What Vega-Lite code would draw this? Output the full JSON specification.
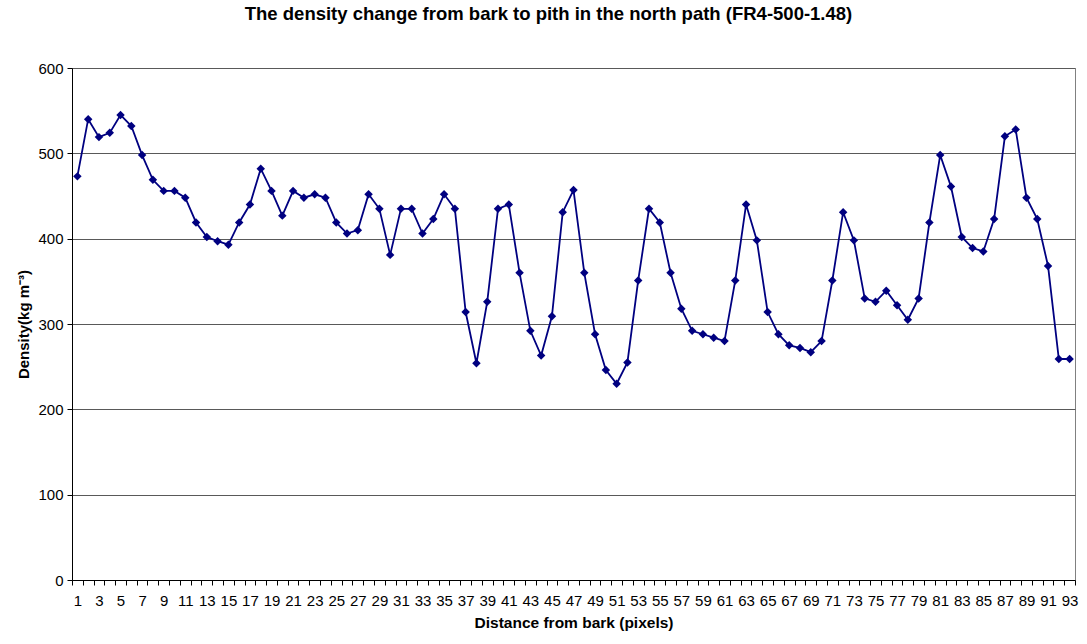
{
  "$schema": "https://vega.github.io/schema/vega-lite/v6.json",
  "autosize": "none",
  "padding": {"left": 72, "top": 68, "right": 12, "bottom": 64},
  "width": 1003,
  "height": 512,
  "background": "white",
  "config": {
    "font": "Liberation Sans",
    "view": {"stroke": "#808080", "strokeWidth": 1}
  },
  "title": {
    "text": "The density change from bark to pith in the north path (FR4-500-1.48)",
    "font": "Liberation Sans",
    "fontSize": 18.5,
    "fontWeight": "bold",
    "color": "#000000",
    "anchor": "middle",
    "frame": "group",
    "dx": -25,
    "baseline": "alphabetic",
    "offset": 23
  },
  "data": {
    "values": [
      {"x": 1, "density": 473}, {"x": 2, "density": 540}, {"x": 3, "density": 519}, {"x": 4, "density": 524},
      {"x": 5, "density": 545}, {"x": 6, "density": 532}, {"x": 7, "density": 498}, {"x": 8, "density": 469},
      {"x": 9, "density": 456}, {"x": 10, "density": 456}, {"x": 11, "density": 448}, {"x": 12, "density": 419},
      {"x": 13, "density": 402}, {"x": 14, "density": 397}, {"x": 15, "density": 393}, {"x": 16, "density": 419},
      {"x": 17, "density": 440}, {"x": 18, "density": 482}, {"x": 19, "density": 456}, {"x": 20, "density": 427},
      {"x": 21, "density": 456}, {"x": 22, "density": 448}, {"x": 23, "density": 452}, {"x": 24, "density": 448},
      {"x": 25, "density": 419}, {"x": 26, "density": 406}, {"x": 27, "density": 410}, {"x": 28, "density": 452},
      {"x": 29, "density": 435}, {"x": 30, "density": 381}, {"x": 31, "density": 435}, {"x": 32, "density": 435},
      {"x": 33, "density": 406}, {"x": 34, "density": 423}, {"x": 35, "density": 452}, {"x": 36, "density": 435},
      {"x": 37, "density": 314}, {"x": 38, "density": 254}, {"x": 39, "density": 326}, {"x": 40, "density": 435},
      {"x": 41, "density": 440}, {"x": 42, "density": 360}, {"x": 43, "density": 292}, {"x": 44, "density": 263},
      {"x": 45, "density": 309}, {"x": 46, "density": 431}, {"x": 47, "density": 457}, {"x": 48, "density": 360},
      {"x": 49, "density": 288}, {"x": 50, "density": 246}, {"x": 51, "density": 230}, {"x": 52, "density": 255},
      {"x": 53, "density": 351}, {"x": 54, "density": 435}, {"x": 55, "density": 419}, {"x": 56, "density": 360},
      {"x": 57, "density": 318}, {"x": 58, "density": 292}, {"x": 59, "density": 288}, {"x": 60, "density": 284},
      {"x": 61, "density": 280}, {"x": 62, "density": 351}, {"x": 63, "density": 440}, {"x": 64, "density": 398},
      {"x": 65, "density": 314}, {"x": 66, "density": 288}, {"x": 67, "density": 275}, {"x": 68, "density": 272},
      {"x": 69, "density": 267}, {"x": 70, "density": 280}, {"x": 71, "density": 351}, {"x": 72, "density": 431},
      {"x": 73, "density": 398}, {"x": 74, "density": 330}, {"x": 75, "density": 326}, {"x": 76, "density": 339},
      {"x": 77, "density": 322}, {"x": 78, "density": 305}, {"x": 79, "density": 330}, {"x": 80, "density": 419},
      {"x": 81, "density": 498}, {"x": 82, "density": 461}, {"x": 83, "density": 402}, {"x": 84, "density": 389},
      {"x": 85, "density": 385}, {"x": 86, "density": 423}, {"x": 87, "density": 520}, {"x": 88, "density": 528},
      {"x": 89, "density": 448}, {"x": 90, "density": 423}, {"x": 91, "density": 368}, {"x": 92, "density": 259},
      {"x": 93, "density": 259}
    ]
  },
  "encoding": {
    "x": {
      "field": "x",
      "type": "quantitative",
      "scale": {"domain": [0.5, 93.5], "nice": false, "zero": false},
      "axis": {
        "values": [0.5,1.5,2.5,3.5,4.5,5.5,6.5,7.5,8.5,9.5,10.5,11.5,12.5,13.5,14.5,15.5,16.5,17.5,18.5,19.5,20.5,21.5,22.5,23.5,24.5,25.5,26.5,27.5,28.5,29.5,30.5,31.5,32.5,33.5,34.5,35.5,36.5,37.5,38.5,39.5,40.5,41.5,42.5,43.5,44.5,45.5,46.5,47.5,48.5,49.5,50.5,51.5,52.5,53.5,54.5,55.5,56.5,57.5,58.5,59.5,60.5,61.5,62.5,63.5,64.5,65.5,66.5,67.5,68.5,69.5,70.5,71.5,72.5,73.5,74.5,75.5,76.5,77.5,78.5,79.5,80.5,81.5,82.5,83.5,84.5,85.5,86.5,87.5,88.5,89.5,90.5,91.5,92.5,93.5],
        "labelExpr": "(datum.value + 0.5) % 2 == 1 && datum.value < 93 ? format(datum.value + 0.5, 'd') : ''",
        "labelOffset": 5.4,
        "labelOverlap": false,
        "labelBound": false,
        "labelFlush": false,
        "labelFontSize": 15,
        "labelColor": "#000000",
        "labelPadding": 8,
        "ticks": true,
        "tickSize": 5,
        "tickColor": "#000000",
        "domainColor": "#000000",
        "grid": false,
        "title": "Distance from bark (pixels)",
        "titleFontSize": 15.5,
        "titleFontWeight": "bold",
        "titleColor": "#000000",
        "titlePadding": 7
      }
    },
    "y": {
      "field": "density",
      "type": "quantitative",
      "scale": {"domain": [0, 600], "nice": false},
      "axis": {
        "values": [0, 100, 200, 300, 400, 500, 600],
        "grid": true,
        "gridColor": "#595959",
        "gridWidth": 1,
        "domainColor": "#000000",
        "tickColor": "#000000",
        "tickSize": 5,
        "labelFontSize": 15,
        "labelColor": "#000000",
        "labelPadding": 4,
        "title": "Density(kg m⁻³)",
        "titleFontSize": 15,
        "titleFontWeight": "bold",
        "titleColor": "#000000",
        "titlePadding": 6
      }
    }
  },
  "layer": [
    {"mark": {"type": "line", "color": "#000080", "strokeWidth": 1.8}},
    {"mark": {"type": "point", "shape": "diamond", "filled": true, "size": 72, "color": "#000080", "opacity": 1}}
  ]
}
